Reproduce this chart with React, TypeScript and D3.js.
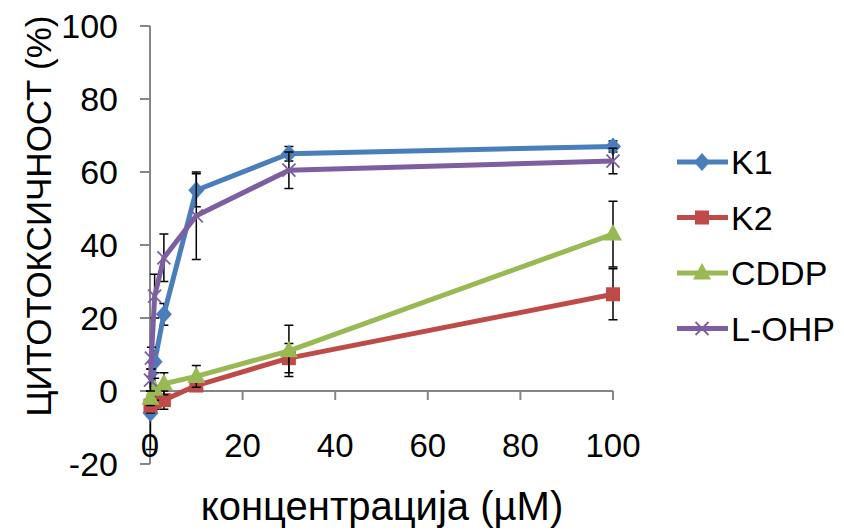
import * as d3 from 'd3';
import { useEffect, useRef } from 'react';

// concentrations (µM) and cytotoxicity (%)
const k1X = [0.1, 1, 3, 10, 30, 100];
const k1Y = [-6, 8, 21, 55, 65, 67];
const k1Err = [10, 3, 3, 4.5, 2, 1.5];

const k2X = [0.1, 1, 3, 10, 30, 100];
const k2Y = [-4, -3, -2.5, 1.5, 9, 26.5];
const k2Err = [2, 2, 2.5, 1.5, 4, 7];

const cddpX = [0.1, 1, 3, 10, 30, 100];
const cddpY = [-2, 0.5, 2, 4, 11, 43];
const cddpErr = [2, 3, 3, 3, 7, 9];

const lohpX = [0.1, 0.3, 1, 3, 10, 30, 100];
const lohpY = [3, 9, 26, 36.5, 48, 60.5, 63];
const lohpErr = [3, 3, 6, 6.5, 12, 5, 3.5];

const seriesNames = ['K1', 'K2', 'CDDP', 'L-OHP'];
const seriesColors = ['#4A7EBB', '#BE4B48', '#98B954', '#7D5FA0'];
const seriesMarkers = ['diamond', 'square', 'triangle', 'x'];

const xTicks = [0, 20, 40, 60, 80, 100];
const yTicks = [-20, 0, 20, 40, 60, 80, 100];

const FONT = 'Liberation Sans, Arial, sans-serif';

type Pt = { x: number; y: number; e: number };

function drawMarker(
  g: d3.Selection<SVGGElement, unknown, null, undefined>,
  kind: string,
  cx: number,
  cy: number,
  color: string,
) {
  if (kind === 'diamond') {
    g.append('path')
      .attr('d', `M${cx},${cy - 9}L${cx + 8},${cy}L${cx},${cy + 9}L${cx - 8},${cy}Z`)
      .attr('fill', color);
  } else if (kind === 'square') {
    g.append('rect')
      .attr('x', cx - 7)
      .attr('y', cy - 7)
      .attr('width', 14)
      .attr('height', 14)
      .attr('fill', color);
  } else if (kind === 'triangle') {
    g.append('path')
      .attr('d', `M${cx},${cy - 10}L${cx + 9},${cy + 6.5}L${cx - 9},${cy + 6.5}Z`)
      .attr('fill', color);
  } else {
    g.append('path')
      .attr('d', `M${cx - 6.5},${cy - 6.5}L${cx + 6.5},${cy + 6.5}M${cx - 6.5},${cy + 6.5}L${cx + 6.5},${cy - 6.5}`)
      .attr('stroke', color)
      .attr('stroke-width', 1.8)
      .attr('fill', 'none');
  }
}

const App = () => {
  const svgRef = useRef<SVGSVGElement>(null);

  useEffect(() => {
    if (!svgRef.current) return;
    const svg = d3.select(svgRef.current);
    svg.selectAll('*').remove();

    const x = d3.scaleLinear().domain([0, 100]).range([150, 613]);
    const y = d3.scaleLinear().domain([-20, 100]).range([464, 26]);

    const axisColor = '#868686';

    // y axis
    const ya = svg.append('g');
    ya.append('line')
      .attr('x1', x(0)).attr('x2', x(0))
      .attr('y1', y(-20)).attr('y2', y(100))
      .attr('stroke', axisColor).attr('stroke-width', 2);
    yTicks.forEach((t) => {
      ya.append('line')
        .attr('x1', x(0) - 10).attr('x2', x(0))
        .attr('y1', y(t)).attr('y2', y(t))
        .attr('stroke', axisColor).attr('stroke-width', 2);
      ya.append('text')
        .attr('x', 118)
        .attr('y', y(t))
        .attr('dy', '0.36em')
        .attr('text-anchor', 'end')
        .attr('font-family', FONT)
        .attr('font-size', 34)
        .text(t);
    });

    // x axis at y = 0, labels at the bottom
    const xa = svg.append('g');
    xa.append('line')
      .attr('x1', x(0)).attr('x2', x(100))
      .attr('y1', y(0)).attr('y2', y(0))
      .attr('stroke', axisColor).attr('stroke-width', 2);
    xTicks.forEach((t) => {
      xa.append('line')
        .attr('x1', x(t)).attr('x2', x(t))
        .attr('y1', y(0)).attr('y2', y(0) + 9)
        .attr('stroke', axisColor).attr('stroke-width', 2);
      xa.append('text')
        .attr('x', x(t))
        .attr('y', 445)
        .attr('dy', '0.36em')
        .attr('text-anchor', 'middle')
        .attr('font-family', FONT)
        .attr('font-size', 33)
        .text(t);
    });

    // axis titles
    svg.append('text')
      .attr('transform', 'translate(51,216) rotate(-90)')
      .attr('text-anchor', 'middle')
      .attr('font-family', FONT)
      .attr('font-size', 35)
      .text('ЦИТОТОКСИЧНОСТ (%)');
    svg.append('text')
      .attr('x', 382)
      .attr('y', 520)
      .attr('text-anchor', 'middle')
      .attr('font-family', FONT)
      .attr('font-size', 40)
      .text('концентрација (µМ)');

    const all: Pt[][] = [
      k1X.map((v, i) => ({ x: v, y: k1Y[i], e: k1Err[i] })),
      k2X.map((v, i) => ({ x: v, y: k2Y[i], e: k2Err[i] })),
      cddpX.map((v, i) => ({ x: v, y: cddpY[i], e: cddpErr[i] })),
      lohpX.map((v, i) => ({ x: v, y: lohpY[i], e: lohpErr[i] })),
    ];

    const line = d3
      .line<Pt>()
      .x((d) => x(d.x))
      .y((d) => y(d.y));

    all.forEach((pts, si) => {
      const g = svg.append('g');
      // error bars
      pts.forEach((p) => {
        const px = x(p.x);
        g.append('path')
          .attr(
            'd',
            `M${px},${y(p.y - p.e)}V${y(p.y + p.e)}` +
              `M${px - 4.5},${y(p.y - p.e)}H${px + 4.5}` +
              `M${px - 4.5},${y(p.y + p.e)}H${px + 4.5}`,
          )
          .attr('stroke', '#000')
          .attr('stroke-width', 1.5)
          .attr('fill', 'none');
      });
      g.append('path')
        .attr('d', line(pts) || '')
        .attr('fill', 'none')
        .attr('stroke', seriesColors[si])
        .attr('stroke-width', 5)
        .attr('stroke-linejoin', 'round');
      pts.forEach((p) => drawMarker(g, seriesMarkers[si], x(p.x), y(p.y), seriesColors[si]));
    });

    // legend
    const lg = svg.append('g');
    seriesNames.forEach((name, i) => {
      const ly = 162 + i * 55.5;
      lg.append('line')
        .attr('x1', 677).attr('x2', 728)
        .attr('y1', ly).attr('y2', ly)
        .attr('stroke', seriesColors[i])
        .attr('stroke-width', 5);
      drawMarker(lg, seriesMarkers[i], 702, ly, seriesColors[i]);
      lg.append('text')
        .attr('x', 731)
        .attr('y', ly)
        .attr('dy', '0.36em')
        .attr('font-family', FONT)
        .attr('font-size', 34)
        .text(name);
    });
  }, []);

  return (
    <svg
      ref={svgRef}
      width={844}
      height={531}
      style={{ position: 'absolute', left: 0, top: 0, background: '#fff' }}
    />
  );
};

export default App;
